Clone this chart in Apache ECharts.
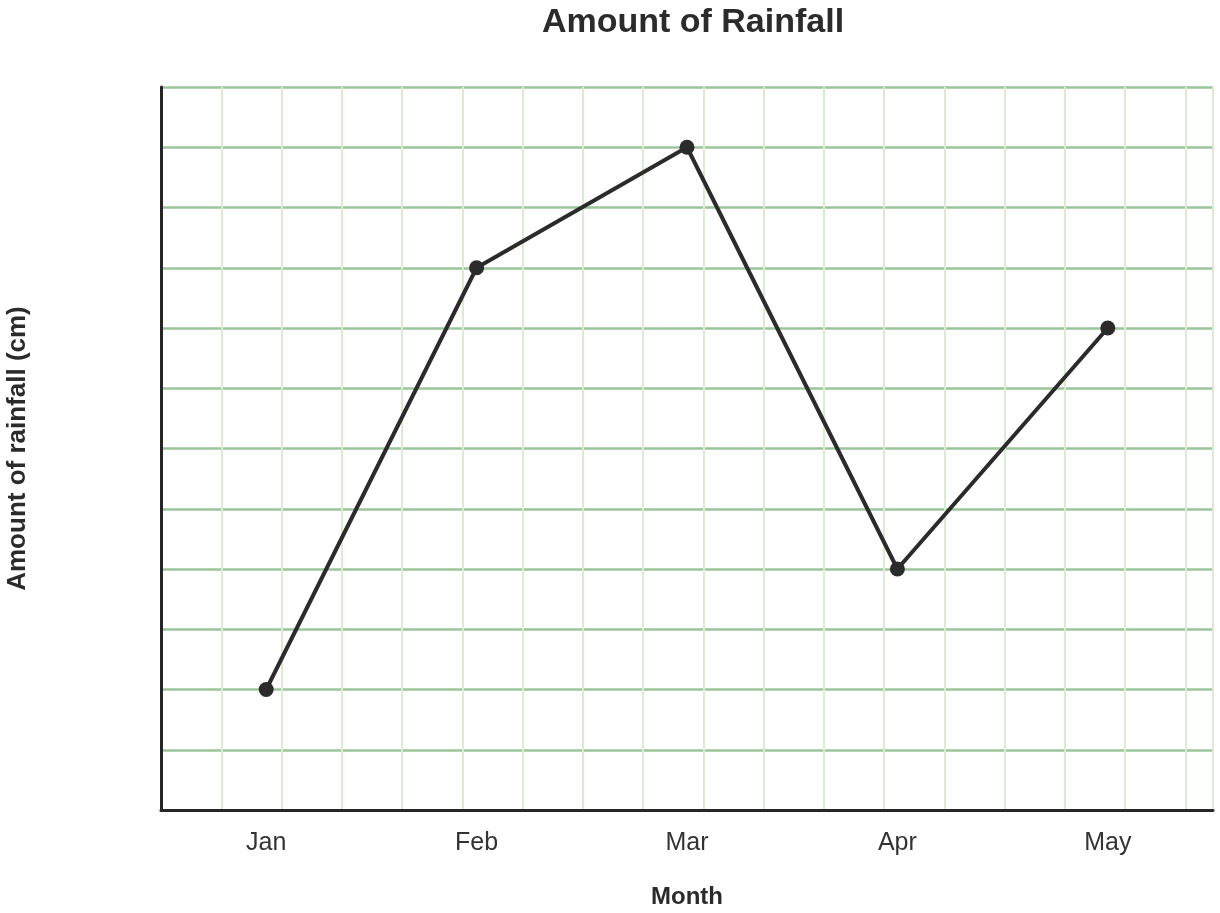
<!DOCTYPE html>
<html>
<head>
<meta charset="utf-8">
<script src="https://cdn.jsdelivr.net/npm/echarts@6/dist/echarts.min.js"></script>
<style>
  html, body { margin: 0; padding: 0; background: #fff; }
  #chart { width: 1220px; height: 913px; }
</style>
</head>
<body>
<div id="chart"></div>
<script>
// data
var months = ['Jan', 'Feb', 'Mar', 'Apr', 'May'];
var rainfall = [2, 9, 11, 4, 8];
var yMax = 12;
// vertical grid: squares of same size as the horizontal ones
var xGridMax = 17.46;

var FONT = '"Liberation Sans", Arial, sans-serif';
var chart = echarts.init(document.getElementById('chart'));

var option = {
    backgroundColor: '#fff',
    animation: false,
    title: {
        text: 'Amount of Rainfall',
        left: 688,
        top: 1,
        textAlign: 'center',
        textStyle: { fontFamily: FONT, fontSize: 34, fontWeight: 'bold', color: '#2b2b2b' }
    },
    // keep the grid where it is, names sit outside on purpose
    grid: { left: 161, right: 7, top: 87, bottom: 103, outerBoundsMode: 'none', containLabel: false },
    xAxis: [{
        type: 'category',
        data: months,
        boundaryGap: true,
        name: 'Month',
        nameLocation: 'middle',
        nameGap: 75,
        nameTextStyle: { fontFamily: FONT, fontSize: 24, fontWeight: 'bold', color: '#2b2b2b' },
        axisLine: { lineStyle: { color: '#262626', width: 3 } },
        axisTick: { show: false },
        axisLabel: { fontFamily: FONT, fontSize: 25, color: '#333', margin: 21 },
        splitLine: { show: false }
    }, {
        // hidden axis only for the light vertical grid
        type: 'value',
        position: 'bottom',
        min: 0,
        max: xGridMax,
        interval: 1,
        axisLine: { show: false },
        axisTick: { show: false },
        axisLabel: { show: false },
        splitLine: { show: true, lineStyle: { color: '#dcecd2', width: 2 } }
    }],
    yAxis: {
        type: 'value',
        min: 0,
        max: yMax,
        interval: 1,
        name: 'Amount of rainfall (cm)',
        nameLocation: 'middle',
        nameGap: 130,
        nameTextStyle: { fontFamily: FONT, fontSize: 26, fontWeight: 'bold', color: '#2b2b2b' },
        axisLine: { show: true, lineStyle: { color: '#262626', width: 3 } },
        axisTick: { show: false },
        axisLabel: { show: false },
        splitLine: { show: true, lineStyle: { color: '#9dc59d', width: 2.5 } }
    },
    series: [{
        type: 'line',
        xAxisIndex: 0,
        data: rainfall,
        symbol: 'circle',
        symbolSize: 15,
        lineStyle: { color: '#2b2b2b', width: 4 },
        itemStyle: { color: '#2b2b2b' },
        z: 5
    }]
};
chart.setOption(option);
</script>
</body>
</html>
